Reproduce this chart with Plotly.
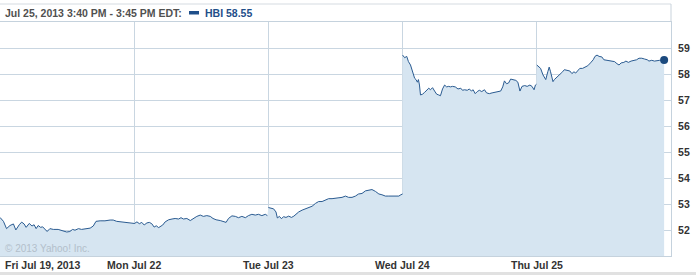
import plotly.graph_objects as go

# ---- data (minutes after 9:30 open, price) ----
day_labels = ["Fri Jul 19, 2013", "Mon Jul 22", "Tue Jul 23", "Wed Jul 24", "Thu Jul 25"]

fri_min = [0, 10, 19, 29, 39, 46, 56, 63, 70, 76, 85, 93, 99, 105, 111, 118, 124, 132, 137, 145,
           155, 169, 184, 194, 203, 211, 218, 228, 237, 247, 262, 271, 279, 291, 305, 320, 329, 339,
           354, 368, 383, 390]
fri_px = [52.51, 52.36, 52.08, 52.20, 52.26, 52.03, 52.23, 52.33, 52.26, 52.13, 52.28, 52.18, 52.23,
          52.08, 52.20, 52.13, 52.15, 52.05, 51.97, 52.08, 52.05, 52.05, 52.00, 51.95, 51.97, 52.05,
          52.02, 52.08, 52.05, 52.08, 52.10, 52.18, 52.36, 52.38, 52.38, 52.41, 52.41, 52.36, 52.33,
          52.31, 52.28, 52.28]

mon_min = [0, 8, 15, 22, 29, 37, 44, 51, 58, 64, 71, 78, 83, 90, 100, 110, 119, 129, 136, 143,
           153, 163, 172, 182, 192, 201, 211, 221, 229, 238, 250, 260, 267, 274, 284, 294, 303, 313,
           323, 332, 342, 352, 361, 371, 381, 387]
mon_px = [52.27, 52.34, 52.27, 52.32, 52.22, 52.30, 52.32, 52.27, 52.14, 52.19, 52.12, 52.17, 52.22,
          52.34, 52.42, 52.45, 52.47, 52.45, 52.50, 52.45, 52.47, 52.39, 52.47, 52.55, 52.60, 52.55,
          52.58, 52.55, 52.47, 52.42, 52.39, 52.34, 52.32, 52.47, 52.57, 52.55, 52.50, 52.55, 52.50,
          52.58, 52.63, 52.60, 52.63, 52.58, 52.63, 52.58]

tue_min = [0, 15, 22, 26, 32, 38, 44, 51, 59, 67, 74, 80, 88, 98, 108, 117, 127, 137, 146, 156,
           166, 175, 185, 195, 204, 214, 224, 233, 243, 253, 262, 272, 282, 291, 301, 311, 321, 330,
           340, 350, 359, 369, 379, 385, 390]
tue_px = [52.89, 52.84, 52.72, 52.49, 52.55, 52.46, 52.54, 52.51, 52.56, 52.51, 52.56, 52.64, 52.72,
          52.79, 52.84, 52.89, 52.94, 53.05, 53.12, 53.12, 53.18, 53.23, 53.23, 53.25, 53.25, 53.28,
          53.33, 53.28, 53.28, 53.33, 53.41, 53.43, 53.53, 53.56, 53.58, 53.51, 53.41, 53.38, 53.33,
          53.33, 53.33, 53.33, 53.33, 53.38, 53.41]

wed_min = [0, 6, 12, 17, 23, 29, 35, 39, 43, 46, 49, 52, 58, 64, 70, 76, 81, 87, 93, 99, 105, 110,
           116, 122, 128, 134, 139, 145, 153, 161, 169, 174, 180, 188, 194, 200, 205, 211, 217, 223,
           230, 238, 244, 252, 260, 269, 279, 285, 291, 296, 302, 308, 314, 322, 329, 335, 341, 347,
           355, 362, 370, 376, 382, 386, 389]
wed_px = [58.74, 58.64, 58.69, 58.49, 58.36, 58.10, 57.85, 57.80, 57.70, 57.80, 57.59, 57.21, 57.24,
          57.31, 57.39, 57.47, 57.41, 57.49, 57.36, 57.24, 57.21, 57.18, 57.44, 57.59, 57.52, 57.54,
          57.52, 57.54, 57.52, 57.44, 57.47, 57.39, 57.41, 57.39, 57.44, 57.36, 57.41, 57.26, 57.34,
          57.39, 57.34, 57.41, 57.29, 57.26, 57.29, 57.31, 57.34, 57.36, 57.52, 57.75, 57.64, 57.67,
          57.82, 57.80, 57.77, 57.70, 57.36, 57.54, 57.57, 57.54, 57.59, 57.54, 57.41, 57.59, 57.62]

thu_min = [0, 11, 18, 26, 32, 36, 40, 44, 47, 51, 57, 63, 69, 75, 80, 88, 96, 102, 108, 113, 119,
           125, 133, 140, 148, 156, 164, 169, 175, 181, 189, 195, 203, 210, 218, 226, 233, 239, 245,
           253, 259, 266, 274, 282, 290, 297, 305, 313, 321, 326, 334, 342, 350, 357, 370]
thu_px = [58.36, 58.23, 57.98, 57.80, 58.10, 58.28, 58.10, 57.85, 57.72, 57.80, 57.87, 57.95, 58.00,
          58.10, 58.18, 58.15, 58.13, 58.03, 58.10, 58.05, 58.13, 58.23, 58.23, 58.28, 58.33, 58.44,
          58.56, 58.69, 58.74, 58.69, 58.67, 58.56, 58.54, 58.54, 58.51, 58.49, 58.41, 58.36, 58.44,
          58.46, 58.51, 58.46, 58.51, 58.54, 58.56, 58.62, 58.62, 58.59, 58.56, 58.51, 58.54, 58.51,
          58.54, 58.54, 58.55]

y_ticks = [52, 53, 54, 55, 56, 57, 58, 59]
symbol = "HBI"
header = "Jul 25, 2013 3:40 PM - 3:45 PM EDT:"
session_minutes = 390

days = [(fri_min, fri_px), (mon_min, mon_px), (tue_min, tue_px), (wed_min, wed_px), (thu_min, thu_px)]

LINE = "#2a5b91"
FILL = "#d6e5f1"
GRID = "#c9d6e1"
TXT = "#333333"
FONT = "Liberation Sans"

fig = go.Figure()
all_x, all_y = [], []
day_series = []
for i, (mins, pxs) in enumerate(days):
    dx = [i + m / session_minutes for m in mins]
    all_x += dx
    all_y += pxs
    day_series.append((dx, pxs))

# continuous area fill across all sessions
fig.add_trace(go.Scatter(x=all_x, y=all_y, mode="none", fill="tozeroy", fillcolor=FILL,
                         hoverinfo="skip"))
# price line, one segment per session
for dx, pxs in day_series:
    fig.add_trace(go.Scatter(x=dx, y=pxs, mode="lines", line=dict(color=LINE, width=1),
                             hoverinfo="skip"))
fig.add_trace(go.Scatter(x=[all_x[-1]], y=[all_y[-1]], mode="markers",
                         marker=dict(color="#1c4a7e", size=8), hoverinfo="skip"))

W, H = 696, 275
L, R, T, B = 0, 25, 22, 19
pw, ph = W - L - R, H - T - B

annotations = [
    dict(text=header, xref="paper", yref="paper", x=0, xshift=3, y=1 + 9 / ph,
         xanchor="left", yanchor="middle", showarrow=False,
         font=dict(family=FONT, size=10.5, color="#505050", weight="bold")),
    dict(text=f"{symbol} {all_y[-1]:.2f}", xref="paper", yref="paper", x=203 / pw, y=1 + 9 / ph,
         xanchor="left", yanchor="middle", showarrow=False,
         font=dict(family=FONT, size=10.5, color="#1f4f8a", weight="bold")),
    dict(text="© 2013 Yahoo! Inc.", xref="paper", yref="paper", x=0, xshift=3, y=8 / ph,
         xanchor="left", yanchor="middle", showarrow=False,
         font=dict(family=FONT, size=10, color="#b3bfcb")),
]
for i, lab in enumerate(day_labels):
    annotations.append(dict(text=lab, xref="x", yref="paper", x=i, y=-9 / ph,
                            xanchor="left" if i == 0 else "center", xshift=3 if i == 0 else 0,
                            yanchor="middle", showarrow=False,
                            font=dict(family=FONT, size=10.5, color=TXT, weight="bold")))

shapes = [
    # legend swatch
    dict(type="rect", xref="paper", yref="paper", x0=189 / pw, x1=199 / pw,
         y0=1 + 7.5 / ph, y1=1 + 11 / ph, fillcolor="#1f4f8a", line=dict(width=0)),
    # header box top and right edge
    dict(type="line", xref="paper", yref="paper", x0=0, x1=1, y0=1 + 18 / ph, y1=1 + 18 / ph,
         line=dict(color="#d5dbe1", width=1)),
    dict(type="line", xref="paper", yref="paper", x0=1, x1=1, y0=1, y1=1 + 18 / ph,
         line=dict(color="#c9d3dc", width=1)),
    # bottom gray band
    dict(type="rect", xref="paper", yref="paper", x0=-0.01, x1=(W + 5) / pw,
         y0=-(B + 2) / ph, y1=-16 / ph, fillcolor="#e1e1e1", line=dict(width=0)),
]

fig.update_layout(
    width=W, height=H, margin=dict(l=L, r=R, t=T, b=B),
    paper_bgcolor="white", plot_bgcolor="white", showlegend=False,
    annotations=annotations, shapes=shapes,
    xaxis=dict(range=[0, 5], tickvals=[0, 1, 2, 3, 4], showticklabels=False, showgrid=True,
               gridcolor=GRID, gridwidth=1, zeroline=False, showline=True, mirror=True,
               linecolor="#c5d2dd", linewidth=1, layer="above traces", fixedrange=True),
    yaxis=dict(range=[51.03, 60.01], tickvals=y_ticks, side="right", showgrid=True,
               gridcolor=GRID, gridwidth=1, zeroline=False, showline=True, mirror=True,
               linecolor="#c5d2dd", linewidth=1, ticks="outside", ticklen=4, tickcolor="rgba(0,0,0,0)",
               tickfont=dict(family=FONT, size=10.5, color=TXT, weight="bold"),
               layer="above traces", fixedrange=True),
)

fig.write_html("out.html", config={"displayModeBar": False})
